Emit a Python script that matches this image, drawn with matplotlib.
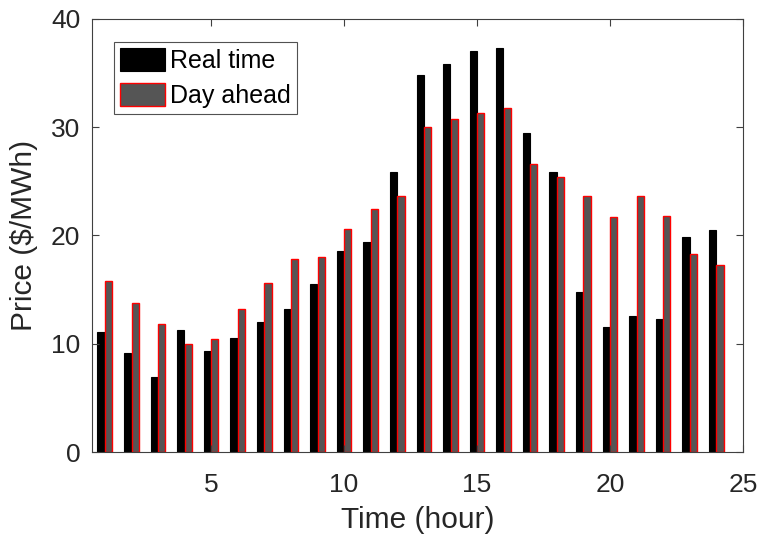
import matplotlib
matplotlib.use("Agg")
import matplotlib.pyplot as plt
import numpy as np

plt.rcParams['font.family'] = ['Liberation Sans', 'DejaVu Sans']

hours = list(range(1, 25))
real_time = [11.1, 9.1, 6.9, 11.3, 9.3, 10.5, 12.0, 13.2, 15.5, 18.6, 19.4, 25.9,
             34.8, 35.8, 37.0, 37.3, 29.5, 25.9, 14.8, 11.5, 12.6, 12.3, 19.9, 20.5]
day_ahead = [15.8, 13.8, 11.8, 10.0, 10.4, 13.2, 15.6, 17.8, 18.0, 20.6, 22.4, 23.6,
             30.0, 30.8, 31.3, 31.8, 26.6, 25.4, 23.6, 21.7, 23.6, 21.8, 18.3, 17.3]
x_ticks = [5, 10, 15, 20, 25]
y_ticks = [0, 10, 20, 30, 40]

fig = plt.figure(figsize=(7.58, 5.41), dpi=100)
ax = fig.add_axes([0.1214, 0.1645, 0.8586, 0.8005])

x = np.array(hours)
w = 0.27
ax.bar(x - 0.14, real_time, width=w, color='black', edgecolor='black', linewidth=0.8,
       label='Real time')
ax.bar(x + 0.14, day_ahead, width=w, color='#555555', edgecolor='#ff0000', linewidth=1.0,
       label='Day ahead')

ax.set_xlim(0.52, 25)
ax.set_ylim(0, 40)
ax.set_xticks(x_ticks)
ax.set_yticks(y_ticks)
ax.tick_params(direction='in', length=5, width=0.8, colors='#404040',
               labelcolor='#262626', labelsize=19, top=True, right=True,
               labeltop=False, labelright=False)
ax.tick_params(axis='x', pad=15)
ax.tick_params(axis='y', pad=8.5)
for s in ax.spines.values():
    s.set_color('#404040')
    s.set_linewidth(0.8)

ax.set_xlabel('Time (hour)', fontsize=21.5, color='#262626')
ax.set_ylabel('Price ($/MWh)', fontsize=21.5, color='#262626')
ax.xaxis.set_label_coords(0.5, -0.125)
ax.yaxis.set_label_coords(-0.083, 0.5)

leg = ax.legend(loc='upper left', bbox_to_anchor=(0.034, 0.947), borderaxespad=0,
                fontsize=18, frameon=True, fancybox=False, edgecolor='#262626',
                handlelength=1.8, handleheight=1.05, handletextpad=0.2,
                labelspacing=0.38, borderpad=0.25)
leg.get_frame().set_linewidth(0.8)

fig.savefig('out.png', dpi=100)
